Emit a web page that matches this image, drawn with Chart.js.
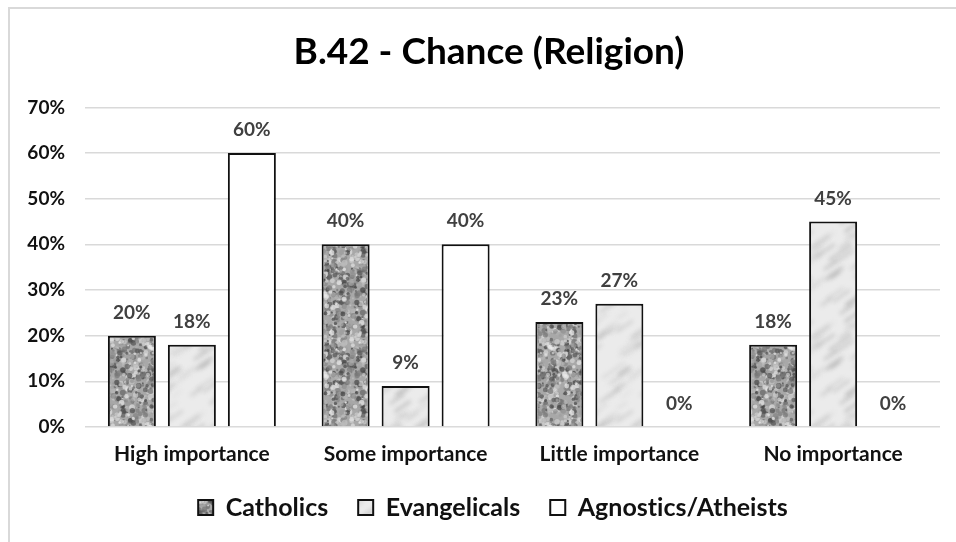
<!DOCTYPE html>
<html>
<head>
<meta charset="utf-8">
<script src="https://cdn.jsdelivr.net/npm/chart.js@4/dist/chart.umd.min.js"></script>
<style>
  html, body { margin: 0; padding: 0; background: #fff; }
  #wrap { position: relative; width: 956px; height: 542px; }
  #frame { position: absolute; left: 8px; top: 7px; right: 0; bottom: 0; border-left: 2px solid #d9d9d9; border-top: 2px solid #d9d9d9; pointer-events: none; }
  canvas { display: block; }
</style>
</head>
<body>
<div id="wrap">
  <canvas id="c" width="956" height="542"></canvas>
  <div id="frame"></div>
</div>
<script>
// ---- Data ----
const titleText = 'B.42 - Chance (Religion)';
const categories = ['High importance', 'Some importance', 'Little importance', 'No importance'];
const seriesNames = ['Catholics', 'Evangelicals', 'Agnostics/Atheists'];
const catholics = [20, 40, 23, 18];
const evangelicals = [18, 9, 27, 45];
const agnostics = [60, 40, 0, 0];
const yMin = 0, yMax = 70, yStep = 10;

// ---- Texture helpers (deterministic, styling only) ----
function hash(i) { const x = Math.sin(i * 12.9898 + 78.233) * 43758.5453; return x - Math.floor(x); }

function granitePattern(ctx) {
  const W = 80, H = 80;
  const cv = document.createElement('canvas'); cv.width = W; cv.height = H;
  const g = cv.getContext('2d');
  g.fillStyle = '#a8a8a8'; g.fillRect(0, 0, W, H);
  for (let i = 0; i < 750; i++) {
    const x = hash(i) * W, y = hash(i + 1000) * H;
    const r = 0.8 + hash(i + 2000) * 2.2;
    const s = Math.round(60 + hash(i + 3000) * 180);
    g.fillStyle = 'rgba(' + s + ',' + s + ',' + s + ',0.7)';
    for (const dx of [-W, 0, W]) for (const dy of [-H, 0, H]) {
      g.beginPath(); g.arc(x + dx, y + dy, r, 0, Math.PI * 2); g.fill();
    }
  }
  return ctx.createPattern(cv, 'repeat');
}

function marblePattern(ctx) {
  const W = 90, H = 90;
  const cv = document.createElement('canvas'); cv.width = W; cv.height = H;
  const g = cv.getContext('2d');
  g.fillStyle = '#ebebeb'; g.fillRect(0, 0, W, H);
  g.filter = 'blur(2px)';
  g.lineCap = 'round';
  for (let i = 0; i < 45; i++) {
    const x = hash(i + 500) * W, y = hash(i + 1500) * H;
    const len = 6 + hash(i + 2500) * 16;
    const s = Math.round(150 + hash(i + 3500) * 70);
    g.strokeStyle = 'rgba(' + s + ',' + s + ',' + s + ',0.55)';
    g.lineWidth = 1 + hash(i + 4500) * 2.5;
    for (const dx of [-W, 0, W]) for (const dy of [-H, 0, H]) {
      g.beginPath(); g.moveTo(x + dx, y + dy); g.lineTo(x + dx + len, y + dy - len * 0.7); g.stroke();
    }
  }
  g.filter = 'none';
  return ctx.createPattern(cv, 'repeat');
}

const canvas = document.getElementById('c');
const ctx = canvas.getContext('2d');
const fills = [granitePattern(ctx), marblePattern(ctx), '#ffffff'];
const seriesValues = [catholics, evangelicals, agnostics];

const FONT = 'Lato, "Open Sans", sans-serif';

// disable optional ligatures (e.g. "ti") and nudge title/legend centres like the original
const tweaks = {
  id: 'tweaks',
  afterLayout(chart) {
    const tb = chart.titleBlock;
    if (tb) { tb.left += 19; tb.right += 19; }
    const lg = chart.legend;
    if (lg) { lg.left += 23; lg.right += 23; }
  },
  beforeDraw(chart) { chart.ctx.letterSpacing = '0.01px'; }
};

const dataLabels = {
  id: 'dataLabels',
  afterDatasetsDraw(chart) {
    const c = chart.ctx;
    c.save();
    c.font = 'bold 19px ' + FONT;
    c.fillStyle = '#404040';
    c.textAlign = 'center';
    c.textBaseline = 'middle';
    chart.data.datasets.forEach((ds, di) => {
      const meta = chart.getDatasetMeta(di);
      meta.data.forEach((el, i) => {
        c.fillText(ds.data[i] + '%', el.x, el.y - 23);
      });
    });
    c.restore();
  }
};

new Chart(ctx, {
  type: 'bar',
  data: {
    labels: categories,
    datasets: seriesNames.map((name, k) => ({
      label: name,
      data: seriesValues[k],
      backgroundColor: fills[k],
      borderColor: '#111111',
      borderWidth: 2,
      borderSkipped: 'start',
      categoryPercentage: 0.842,
      barPercentage: 0.8
    }))
  },
  options: {
    responsive: false,
    devicePixelRatio: 1,
    animation: false,
    layout: { padding: { left: 0, right: 16, top: 0, bottom: 12 } },
    plugins: {
      title: {
        display: true,
        text: titleText,
        color: '#000000',
        font: { family: FONT, size: 37, weight: 'bold' },
        padding: { top: 30, bottom: 33 }
      },
      legend: {
        position: 'bottom',
        labels: {
          color: '#111111',
          font: { family: FONT, size: 25, weight: 'bold' },
          boxWidth: 15,
          boxHeight: 15,
          padding: 30
        }
      },
      tooltip: { enabled: false }
    },
    scales: {
      x: {
        grid: { display: false, drawTicks: false },
        border: { display: false },
        ticks: { color: '#111111', font: { family: FONT, size: 21, weight: 'bold' }, padding: 15 },
        afterFit(scale) { scale.height = 38; }
      },
      y: {
        min: yMin, max: yMax,
        grid: { color: '#d9d9d9', lineWidth: 1.5, drawTicks: false },
        border: { display: false },
        ticks: {
          stepSize: yStep,
          color: '#111111',
          font: { family: FONT, size: 19, weight: 'bold' },
          padding: 20,
          callback: v => v + '%'
        },
        afterFit(scale) { scale.width = 85; }
      }
    }
  },
  plugins: [tweaks, dataLabels]
});
</script>
</body>
</html>
